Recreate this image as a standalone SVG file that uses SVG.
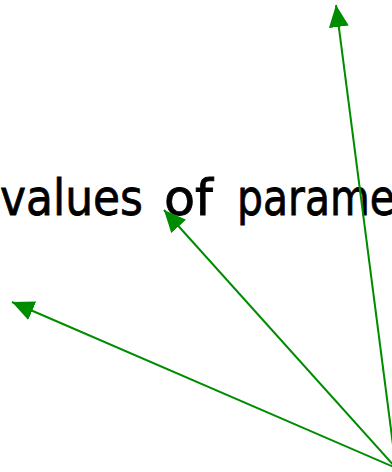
<svg xmlns="http://www.w3.org/2000/svg" width="392" height="472" viewBox="0 0 392 472">
<style>
.lbl{font-family:"DejaVu Sans","Liberation Sans",sans-serif;font-size:50px;fill:#000;stroke:#000;stroke-width:0.8}
.arr{stroke:#008c00;stroke-width:2;fill:none;marker-end:url(#ah)}
</style>
<defs>
<marker id="ah" markerUnits="userSpaceOnUse" markerWidth="24" markerHeight="22" refX="22" refY="10" orient="auto">
<path d="M0,0 L22,10 L0,20 Z" fill="#008c00"/>
</marker>
</defs>
<rect width="392" height="472" fill="#fff"/>
<g id="label">
<text class="lbl" y="215"><tspan x="0" textLength="143" lengthAdjust="spacingAndGlyphs">values</tspan> <tspan x="164" textLength="49" lengthAdjust="spacingAndGlyphs">of</tspan> <tspan x="237" textLength="158" lengthAdjust="spacingAndGlyphs">parame</tspan></text>
</g>
<g id="connectors">
<line class="arr" x1="396" y1="468" x2="336" y2="5"/>
<line class="arr" x1="396" y1="468" x2="164" y2="210"/>
<line class="arr" x1="396" y1="468" x2="12" y2="302"/>
</g>
</svg>
